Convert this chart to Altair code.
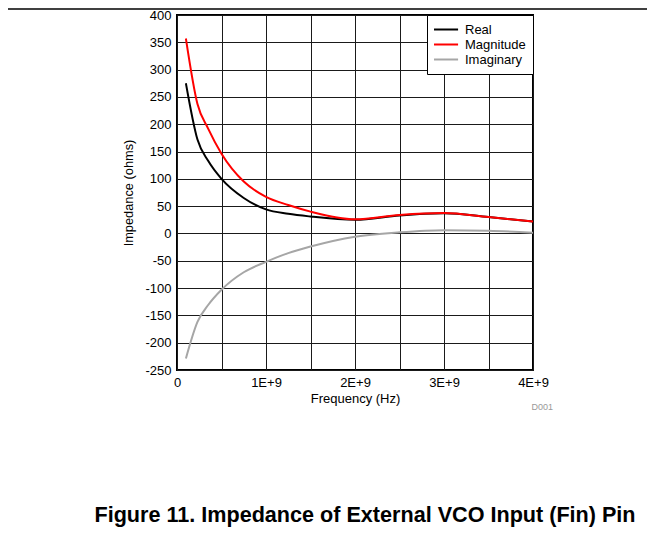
import altair as alt
import pandas as pd

# Frequency (Hz) sample points
freq = [0.1e9, 0.23e9, 0.35e9, 0.5e9, 0.75e9, 1.0e9, 1.25e9, 1.5e9, 2.0e9, 2.5e9, 3.0e9, 3.5e9, 4.0e9]
real = [275, 172, 133, 100, 65, 44, 36, 31, 25, 33, 37, 30, 22]
magnitude = [357, 237, 192, 146, 95, 67, 52, 40, 26, 34, 37.5, 30, 22]
imaginary = [-229, -162, -131, -103, -71, -52, -36, -24, -6, 2, 6, 5, 1.5]

series_names = ["Real", "Magnitude", "Imaginary"]
series_colors = ["#000000", "#ff0000", "#a6a6a6"]

x_grid = [0, 0.5e9, 1e9, 1.5e9, 2e9, 2.5e9, 3e9, 3.5e9, 4e9]
y_ticks = [-250, -200, -150, -100, -50, 0, 50, 100, 150, 200, 250, 300, 350, 400]

caption = "Figure 11. Impedance of External VCO Input (Fin) Pin"
code = "D001"

rows = []
for name, vals in zip(series_names, [real, magnitude, imaginary]):
    for f, v in zip(freq, vals):
        rows.append({"freq": f, "value": v, "series": name})
df = pd.DataFrame(rows)

FONT = "Liberation Sans"
W, H = 356, 355

lines = alt.Chart(df).mark_line(strokeWidth=2, interpolate="monotone").encode(
    x=alt.X("freq:Q",
            scale=alt.Scale(domain=[0, 4e9], nice=False, zero=False),
            axis=alt.Axis(values=x_grid, title="Frequency (Hz)",
                          labelExpr="datum.value == 0 ? '0' : (datum.value % 1000000000 == 0 ? (datum.value/1000000000) + 'E+9' : '')",
                          ticks=False, domain=False, labelPadding=6, titlePadding=3,
                          labelFontSize=13, titleFontSize=13, labelFlush=False)),
    y=alt.Y("value:Q",
            scale=alt.Scale(domain=[-250, 400], nice=False, zero=False),
            axis=alt.Axis(values=y_ticks, title="Impedance (ohms)",
                          labelExpr="datum.value < 0 ? '-' + abs(datum.value) : '' + datum.value",
                          ticks=False, domain=False, labelPadding=6, titlePadding=9,
                          labelFontSize=13, titleFontSize=12.8)),
    color=alt.Color("series:N",
                    scale=alt.Scale(domain=series_names, range=series_colors),
                    sort=series_names,
                    legend=alt.Legend(title=None, orient="top-right", offset=0,
                                      padding=7, strokeColor="#000000", fillColor="#ffffff",
                                      symbolType="M-1.15,0H2.55", symbolSize=169,
                                      symbolStrokeWidth=2, labelOffset=16,
                                      labelFontSize=13, rowPadding=0,
                                      labelFont=FONT)),
)

ann = pd.DataFrame({"t": [caption]})
cap = alt.Chart(ann).mark_text(font=FONT, fontSize=21.6, fontWeight="bold", color="#000000",
                               align="center", baseline="middle").encode(
    x=alt.value(188), y=alt.value(501), text="t:N")

ann2 = pd.DataFrame({"t": [code]})
cd = alt.Chart(ann2).mark_text(font=FONT, fontSize=9, color="#999999",
                               align="right", baseline="middle").encode(
    x=alt.value(376), y=alt.value(392), text="t:N")

top_rule = alt.Chart(ann).mark_rule(color="#000000", strokeWidth=1.5).encode(
    x=alt.value(-169), x2=alt.value(470), y=alt.value(-6))

chart = alt.layer(lines, cap, cd, top_rule).properties(
    width=W, height=H,
    autosize=alt.AutoSizeParams(type="none"),
    padding={"left": 169, "top": 7, "right": 114, "bottom": 164},
).configure(font=FONT).configure_view(
    stroke="#000000", strokeWidth=2
).configure_axis(
    gridColor="#1a1a1a", gridWidth=1, gridOpacity=1,
    labelColor="#000000", titleColor="#000000",
    labelFont=FONT, titleFont=FONT, titleFontWeight="normal"
)

chart.save("out.html", embed_options={"renderer": "svg", "actions": False})
